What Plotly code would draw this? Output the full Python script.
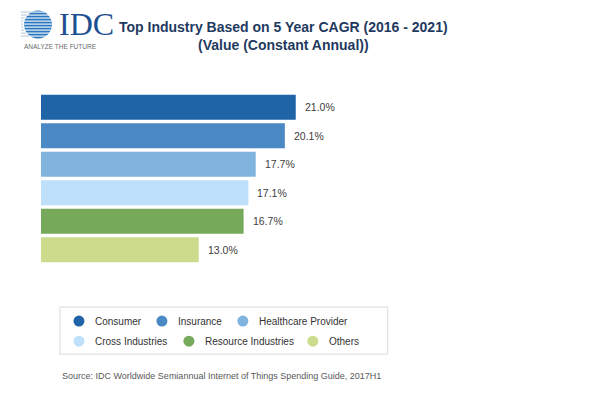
import math
import plotly.graph_objects as go

categories = ["Consumer", "Insurance", "Healthcare Provider",
              "Cross Industries", "Resource Industries", "Others"]
values = [21.0, 20.1, 17.7, 17.1, 16.7, 13.0]
value_labels = ["21.0%", "20.1%", "17.7%", "17.1%", "16.7%", "13.0%"]
colors = ["#1f64a6", "#4a89c4", "#80b4df", "#bee0fa", "#76a95a", "#cbdd8c"]

title_line1 = "Top Industry Based on 5 Year CAGR (2016 - 2021)"
title_line2 = "(Value (Constant Annual))"
source_text = "Source: IDC Worldwide Semiannual Internet of Things Spending Guide, 2017H1"

W, H = 600, 403
ML, MR, MT, MB = 41, 12.6, 93.3, 139
PW = W - ML - MR
PH = H - MT - MB
XMAX = PW / 12.14
FONT = "Liberation Sans, Arial, sans-serif"


def px(x):
    return (x - ML) / PW


def py(y):
    return (H - MB - y) / PH


fig = go.Figure()
fig.add_trace(go.Bar(
    x=values, y=categories, orientation="h",
    marker=dict(color=colors, line=dict(width=0)),
    hoverinfo="skip", showlegend=False,
))

annotations = []
shapes = []

# value labels
for c, v, t in zip(categories, values, value_labels):
    annotations.append(dict(x=v, y=c, xref="x", yref="y", text=t, showarrow=False,
                            xanchor="left", xshift=7,
                            font=dict(size=10.5, color="#404040", family=FONT)))

# title
annotations.append(dict(x=px(284), y=py(27), xref="paper", yref="paper",
                        text="<b>" + title_line1 + "</b>",
                        showarrow=False, xanchor="center", yanchor="middle",
                        font=dict(size=14, color="#1f3a60", family=FONT)))
annotations.append(dict(x=px(284), y=py(45), xref="paper", yref="paper",
                        text="<b>" + title_line2 + "</b>",
                        showarrow=False, xanchor="center", yanchor="middle",
                        font=dict(size=14, color="#1f3a60", family=FONT)))

# logo
gcx, gcy, gr = 38, 25, 14
shapes.append(dict(type="circle", xref="paper", yref="paper",
                   x0=px(gcx - gr), x1=px(gcx + gr), y0=py(gcy + gr), y1=py(gcy - gr),
                   fillcolor="#2a78bf", line=dict(width=0), layer="above"))
yy = gcy - gr + 1.5
while yy < gcy + gr:
    d = abs(yy - gcy)
    half = math.sqrt(max(gr * gr - d * d, 0))
    shapes.append(dict(type="line", xref="paper", yref="paper",
                       x0=px(gcx - half - 1), x1=px(gcx + half + 1), y0=py(yy), y1=py(yy),
                       line=dict(color="white", width=1.1), layer="above"))
    shapes.append(dict(type="line", xref="paper", yref="paper",
                       x0=px(21), x1=px(gcx - half - 1), y0=py(yy), y1=py(yy),
                       line=dict(color="#b9c6d6", width=1), layer="above"))
    yy += 3
annotations.append(dict(x=px(57), y=py(24), xref="paper", yref="paper", text="IDC",
                        showarrow=False, xanchor="left", yanchor="middle",
                        font=dict(size=32, color="#1d4f91", family="Liberation Serif, serif")))
annotations.append(dict(x=px(22), y=py(47), xref="paper", yref="paper", text="ANALYZE THE FUTURE",
                        showarrow=False, xanchor="left", yanchor="middle",
                        font=dict(size=6.5, color="#6a6a6a", family=FONT)))

# legend box
shapes.append(dict(type="rect", xref="paper", yref="paper",
                   x0=px(60), x1=px(388), y0=py(354), y1=py(307),
                   line=dict(color="#d9d9d9", width=1), fillcolor="rgba(0,0,0,0)"))
text_x = [93, 176, 257, 93, 203, 327]
row_y = [321, 321, 321, 341, 341, 341]
for c, col, tx, ry in zip(categories, colors, text_x, row_y):
    cx = px(tx - 14)
    cy = py(ry)
    shapes.append(dict(type="circle", xref="paper", yref="paper",
                       xsizemode="pixel", ysizemode="pixel", xanchor=cx, yanchor=cy,
                       x0=-5.5, x1=5.5, y0=-5.5, y1=5.5,
                       fillcolor=col, line=dict(width=0)))
    annotations.append(dict(x=px(tx), y=cy, xref="paper", yref="paper", text=c,
                            showarrow=False, xanchor="left", yanchor="middle",
                            font=dict(size=10, color="#333333", family=FONT)))

# source
annotations.append(dict(x=px(60), y=py(376), xref="paper", yref="paper", text=source_text,
                        showarrow=False, xanchor="left", yanchor="middle",
                        font=dict(size=9, color="#595959", family=FONT)))

fig.update_layout(
    width=W, height=H,
    margin=dict(l=ML, r=MR, t=MT, b=MB),
    paper_bgcolor="white", plot_bgcolor="white",
    bargap=0.12,
    xaxis=dict(range=[0, XMAX], visible=False, fixedrange=True),
    yaxis=dict(autorange="reversed", visible=False, fixedrange=True),
    annotations=annotations, shapes=shapes,
    showlegend=False,
)

fig.write_html("out.html")
